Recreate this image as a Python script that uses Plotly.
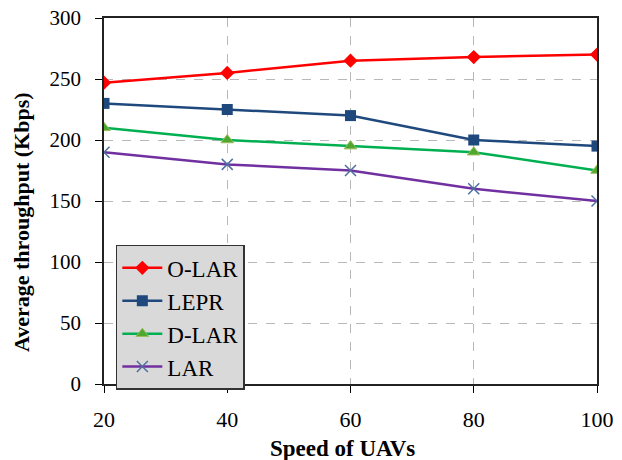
import plotly.graph_objects as go

speed = [20, 40, 60, 80, 100]
o_lar = [247, 255, 265, 268, 270]
lepr = [230, 225, 220, 200, 195]
d_lar = [210, 200, 195, 190, 175]
lar = [190, 180, 175, 160, 150]

SERIF = "'Times New Roman', 'Liberation Serif', serif"

fig = go.Figure()
fig.add_scatter(x=speed, y=o_lar, name="O-LAR", mode="lines+markers",
                line=dict(color="#ff0000", width=2.5),
                marker=dict(symbol="diamond", size=11, color="#ff0000"))
fig.add_scatter(x=speed, y=lepr, name="LEPR", mode="lines+markers",
                line=dict(color="#1f497d", width=2.5),
                marker=dict(symbol="square", size=11, color="#1f497d"))
fig.add_scatter(x=speed, y=d_lar, name="D-LAR", mode="lines+markers",
                line=dict(color="#00b050", width=2.5),
                marker=dict(symbol="triangle-up", size=11, color="#4ea72e",
                            line=dict(color="#9bbb59", width=1)))
fig.add_scatter(x=speed, y=lar, name="LAR", mode="lines+markers",
                line=dict(color="#7030a0", width=2.5),
                marker=dict(symbol="x-thin", size=11,
                            line=dict(color="#4f6fa0", width=1.5)))

# axis titles as annotations so they sit where the original puts them
fig.add_annotation(text="<b>Speed of UAVs</b>", xref="paper", yref="paper",
                   x=0.483, y=-0.175, showarrow=False, yanchor="middle",
                   font=dict(family=SERIF, size=23, color="black"))
fig.add_annotation(text="<b>Average throughput (Kbps)</b>", xref="paper", yref="paper",
                   x=-0.166, y=0.443, showarrow=False, textangle=-90,
                   xanchor="center", yanchor="middle",
                   font=dict(family=SERIF, size=22, color="black"))

# the page body adds an 8px offset, so margins are shifted to compensate
fig.update_layout(
    width=622, height=460,
    margin=dict(l=96, r=33, t=10, b=84),
    plot_bgcolor="white", paper_bgcolor="white",
    font=dict(family=SERIF, size=20, color="black"),
    legend=dict(x=0.024, y=0.38, xanchor="left", yanchor="top",
                bgcolor="#d9d9d9", bordercolor="#333333", borderwidth=1.5,
                font=dict(family=SERIF, size=23, color="black"), tracegroupgap=0,
                itemwidth=40),
)
fig.update_xaxes(
    range=[20, 100], tickvals=speed, showline=True, linecolor="#222222", linewidth=1.5,
    mirror=True, ticks="outside", ticklen=7, tickcolor="black", ticklabelstandoff=8,
    tickfont=dict(family=SERIF, size=22, color="black"), automargin=False,
    ticklabeloverflow="allow",
    showgrid=True, gridcolor="#b8b8b8", griddash="dash", gridwidth=1,
    zeroline=False,
)
fig.update_yaxes(
    range=[0, 300], dtick=50, showline=True, linecolor="#222222", linewidth=1.5,
    mirror=True, ticks="outside", ticklen=7, tickcolor="black", ticklabelstandoff=10,
    tickfont=dict(family=SERIF, size=21, color="black"), automargin=False,
    ticklabeloverflow="allow",
    showgrid=True, gridcolor="#b8b8b8", griddash="dash", gridwidth=1,
    zeroline=False,
)

fig.write_html("out.html")
